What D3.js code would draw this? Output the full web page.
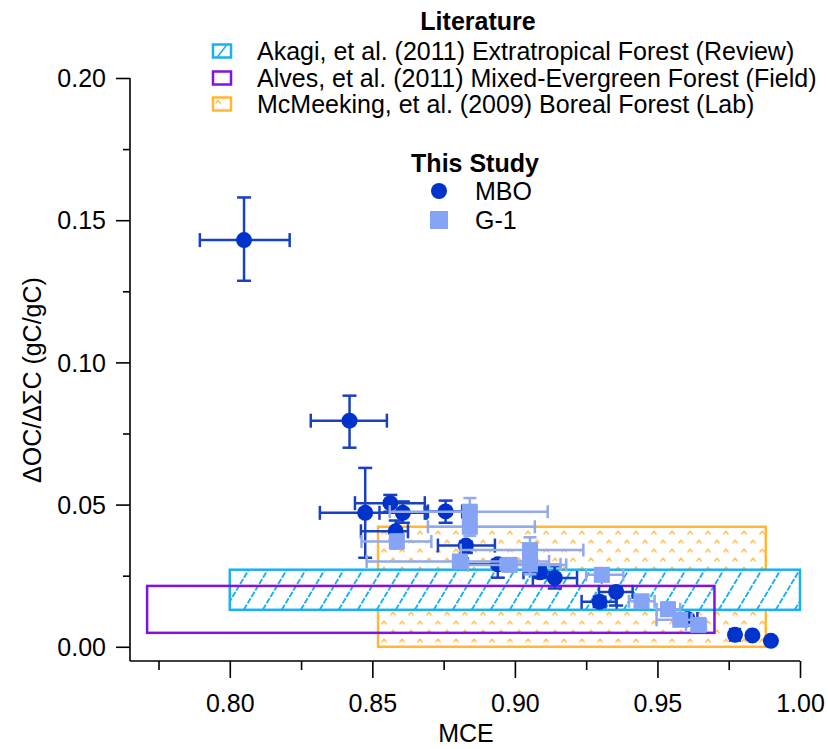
<!DOCTYPE html>
<html>
<head>
<meta charset="utf-8">
<script src="https://cdn.jsdelivr.net/npm/d3@7"></script>
<style>
  html, body { margin: 0; padding: 0; background: #ffffff; }
  svg { display: block; font-family: "Liberation Sans", Arial, sans-serif; }
</style>
</head>
<body>
<svg id="chart" width="828" height="749"></svg>
<script>
// ---- axis ticks ----
const xTicks = [0.80, 0.85, 0.90, 0.95, 1.00];
const xMinorTicks = [0.775, 0.825, 0.875, 0.925, 0.975];
const yTicks = [0.00, 0.05, 0.10, 0.15, 0.20];
const yMinorTicks = [0.025, 0.075, 0.125, 0.175];

// ---- literature ranges (MCE range x OC/C range) ----
const litNames = [
  "Akagi, et al. (2011) Extratropical Forest (Review)",
  "Alves, et al. (2011) Mixed-Evergreen Forest (Field)",
  "McMeeking, et al. (2009) Boreal Forest (Lab)"
];
const litMceLo = [0.800, 0.771, 0.852];
const litMceHi = [1.000, 0.970, 0.988];
const litRatioLo = [0.0130, 0.0049, 0.0000];
const litRatioHi = [0.0271, 0.0214, 0.0422];

// ---- this study: MBO ----
const mboMce     = [0.805, 0.842, 0.8475, 0.8563, 0.8607, 0.8757, 0.8582, 0.8828, 0.8940, 0.9088, 0.9140, 0.9297, 0.9355, 0.9605, 0.9772, 0.9833, 0.9898];
const mboRatio   = [0.143, 0.0795, 0.0471, 0.0505, 0.0471, 0.0476, 0.0406, 0.0356, 0.0290, 0.0262, 0.0242, 0.0158, 0.0193, 0.0098, 0.0042, 0.0040, 0.0021];
const mboMceLo   = [0.7895, 0.8284, 0.8316, 0.8439, 0.8525, 0.8695, 0.8460, 0.8730, 0.8835, 0.9030, 0.9063, 0.9234, 0.9295, 0.9570, 0.9755, 0.9823, 0.9893];
const mboMceHi   = [0.8210, 0.8551, 0.8684, 0.8684, 0.8690, 0.8815, 0.8625, 0.8930, 0.9045, 0.9140, 0.9218, 0.9357, 0.9413, 0.9640, 0.9789, 0.9843, 0.9903];
const mboRatioLo = [0.1287, 0.0700, 0.0313, 0.0475, 0.0436, 0.0436, 0.0375, 0.0330, 0.0243, 0.0245, 0.0205, 0.0140, 0.0145, 0.0085, 0.0035, 0.0036, 0.0018];
const mboRatioHi = [0.1580, 0.0883, 0.0629, 0.0534, 0.0511, 0.0514, 0.0444, 0.0370, 0.0306, 0.0280, 0.0283, 0.0176, 0.0212, 0.0110, 0.0049, 0.0044, 0.0024];

// ---- this study: G-1 ----
const g1Mce     = [0.8842, 0.8842, 0.8586, 0.8807, 0.8982, 0.9053, 0.9053, 0.9305, 0.9444, 0.9537, 0.9580, 0.9643];
const g1Ratio   = [0.0475, 0.0422, 0.0370, 0.0300, 0.0288, 0.0340, 0.0290, 0.0253, 0.0160, 0.0132, 0.0095, 0.0077];
const g1MceLo   = [0.8561, 0.8695, 0.8462, 0.8480, 0.8835, 0.8810, 0.8950, 0.9250, 0.9400, 0.9497, 0.9497, 0.9600];
const g1MceHi   = [0.9115, 0.9070, 0.8707, 0.9120, 0.9180, 0.9240, 0.9160, 0.9380, 0.9490, 0.9580, 0.9620, 0.9670];
const g1RatioLo = [0.0435, 0.0390, 0.0345, 0.0285, 0.0270, 0.0310, 0.0255, 0.0235, 0.0140, 0.0110, 0.0075, 0.0060];
const g1RatioHi = [0.0523, 0.0455, 0.0395, 0.0315, 0.0310, 0.0385, 0.0315, 0.0270, 0.0180, 0.0155, 0.0115, 0.0095];

// ---- styles ----
const litColors = ["#1ab1ef", "#7f14e0", "#ffb735"];
const mboColor = "#0033cc";
const mboBarColor = "#1841c2";
const g1Color = "#86a4f6";
const g1BarColor = "#92a9ec";
const fontSize = 25;

const svg = d3.select("#chart");
const x = d3.scaleLinear().domain([0.765, 1.00]).range([130, 800]);
const y = d3.scaleLinear().domain([-0.005, 0.20]).range([661, 78]);

// ---- patterns ----
const defs = svg.append("defs");
const caret = "M-2.5,1.5 L0,-1.5 L2.5,1.5";
const pat = defs.append("pattern")
  .attr("id", "borealFill")
  .attr("patternUnits", "userSpaceOnUse")
  .attr("width", 18).attr("height", 18)
  .attr("x", x(litMceLo[2])).attr("y", y(litRatioHi[2]));
pat.append("rect").attr("width", 18).attr("height", 18).attr("fill", "#fff");
[[6, 6], [15, 15]].forEach(([cx, cy]) => {
  pat.append("path").attr("d", caret)
    .attr("transform", `translate(${cx},${cy})`)
    .attr("fill", "none").attr("stroke", litColors[2]).attr("stroke-width", 1.2);
});

// ---- literature rectangles ----
const plot = svg.append("g");

function rectBox(i) {
  return {
    x0: x(litMceLo[i]), x1: x(litMceHi[i]),
    y0: y(litRatioHi[i]), y1: y(litRatioLo[i])
  };
}

// McMeeking (pattern filled)
{
  const b = rectBox(2);
  plot.append("rect")
    .attr("x", b.x0).attr("y", b.y0)
    .attr("width", b.x1 - b.x0).attr("height", b.y1 - b.y0)
    .attr("fill", "url(#borealFill)")
    .attr("stroke", litColors[2]).attr("stroke-width", 2.5);
}

// Akagi (white fill with diagonal hatching)
{
  const b = rectBox(0);
  const h = b.y1 - b.y0;
  const lean = 0.6 * h;
  defs.append("clipPath").attr("id", "akagiClip")
    .append("rect").attr("x", b.x0).attr("y", b.y0)
    .attr("width", b.x1 - b.x0).attr("height", h);
  plot.append("rect")
    .attr("x", b.x0).attr("y", b.y0)
    .attr("width", b.x1 - b.x0).attr("height", h)
    .attr("fill", "#fff");
  const starts = d3.range(b.x0 - lean, b.x1 + 1, 19);
  plot.append("g").attr("clip-path", "url(#akagiClip)")
    .selectAll("line").data(starts).join("line")
    .attr("x1", d => d).attr("y1", b.y1)
    .attr("x2", d => d + lean).attr("y2", b.y0)
    .attr("stroke", litColors[0]).attr("stroke-width", 1.9)
    .attr("stroke-dasharray", "6,1.5");
  plot.append("rect")
    .attr("x", b.x0).attr("y", b.y0)
    .attr("width", b.x1 - b.x0).attr("height", h)
    .attr("fill", "none")
    .attr("stroke", litColors[0]).attr("stroke-width", 2.5);
}

// Alves (outline only)
{
  const b = rectBox(1);
  plot.append("rect")
    .attr("x", b.x0).attr("y", b.y0)
    .attr("width", b.x1 - b.x0).attr("height", b.y1 - b.y0)
    .attr("fill", "none")
    .attr("stroke", litColors[1]).attr("stroke-width", 2.5);
}

// ---- error bars ----
function errorBars(g, mce, ratio, lo, hi, rlo, rhi, color, width, cap) {
  const idx = d3.range(mce.length);
  const eg = g.append("g").attr("stroke", color).attr("stroke-width", width).attr("fill", "none");
  idx.forEach(i => {
    const cx = x(mce[i]), cy = y(ratio[i]);
    const xl = x(lo[i]), xr = x(hi[i]);
    const yt = y(rhi[i]), yb = y(rlo[i]);
    eg.append("line").attr("x1", xl).attr("x2", xr).attr("y1", cy).attr("y2", cy);
    eg.append("line").attr("x1", xl).attr("x2", xl).attr("y1", cy - cap / 2).attr("y2", cy + cap / 2);
    eg.append("line").attr("x1", xr).attr("x2", xr).attr("y1", cy - cap / 2).attr("y2", cy + cap / 2);
    eg.append("line").attr("x1", cx).attr("x2", cx).attr("y1", yt).attr("y2", yb);
    eg.append("line").attr("x1", cx - cap / 2).attr("x2", cx + cap / 2).attr("y1", yt).attr("y2", yt);
    eg.append("line").attr("x1", cx - cap / 2).attr("x2", cx + cap / 2).attr("y1", yb).attr("y2", yb);
  });
}

const pts = svg.append("g");

// MBO
errorBars(pts, mboMce, mboRatio, mboMceLo, mboMceHi, mboRatioLo, mboRatioHi, mboBarColor, 2.5, 14);
pts.append("g").selectAll("circle").data(d3.range(mboMce.length)).join("circle")
  .attr("cx", i => x(mboMce[i])).attr("cy", i => y(mboRatio[i]))
  .attr("r", 8).attr("fill", mboColor);

// G-1
errorBars(pts, g1Mce, g1Ratio, g1MceLo, g1MceHi, g1RatioLo, g1RatioHi, g1BarColor, 2.5, 13);
const sq = 16;
pts.append("g").selectAll("rect").data(d3.range(g1Mce.length)).join("rect")
  .attr("x", i => x(g1Mce[i]) - sq / 2).attr("y", i => y(g1Ratio[i]) - sq / 2)
  .attr("width", sq).attr("height", sq).attr("fill", g1Color);

// ---- axes ----
const axes = svg.append("g").attr("stroke", "#000").attr("stroke-width", 1.6);
const yAxis = d3.axisLeft(y).tickValues(yTicks).tickSize(14).tickFormat(d3.format(".2f")).tickSizeOuter(0);
const yAxisMinor = d3.axisLeft(y).tickValues(yMinorTicks).tickSize(7).tickFormat("").tickSizeOuter(0);
const xAxis = d3.axisBottom(x).tickValues(xTicks).tickSize(17).tickFormat(d3.format(".2f")).tickSizeOuter(0);
const xAxisMinor = d3.axisBottom(x).tickValues(xMinorTicks).tickSize(9).tickFormat("").tickSizeOuter(0);

function styleAxis(g) {
  g.selectAll(".domain").remove();
  g.selectAll("line").attr("stroke", "#000").attr("stroke-width", 1.6);
  g.selectAll("text").attr("fill", "#000").attr("font-size", fontSize)
    .attr("font-family", "'Liberation Sans', Arial, sans-serif");
}

const gy = svg.append("g").attr("transform", `translate(${x(0.765)},0)`).call(yAxis).call(styleAxis);
gy.selectAll("text").attr("x", -24).attr("dy", "0.35em");
svg.append("g").attr("transform", `translate(${x(0.765)},0)`).call(yAxisMinor).call(styleAxis);
const gx = svg.append("g").attr("transform", `translate(0,${y(-0.005)})`).call(xAxis).call(styleAxis);
gx.selectAll("text").attr("y", 42).attr("dy", "0.35em");
svg.append("g").attr("transform", `translate(0,${y(-0.005)})`).call(xAxisMinor).call(styleAxis);

// axis lines
axes.append("line").attr("x1", x(0.765)).attr("x2", x(0.765)).attr("y1", y(0.20)).attr("y2", y(-0.005));
axes.append("line").attr("x1", x(0.765)).attr("x2", x(1.00)).attr("y1", y(-0.005)).attr("y2", y(-0.005));

// axis titles
svg.append("text").attr("x", 466).attr("y", 733).attr("dy", "0.35em")
  .attr("text-anchor", "middle").attr("font-size", fontSize).text("MCE");
svg.append("text").attr("transform", "translate(32,380) rotate(-90)").attr("dy", "0.35em")
  .attr("text-anchor", "middle").attr("font-size", fontSize).text("ΔOC/ΔΣC (gC/gC)");

// ---- legend: literature ----
const leg = svg.append("g");
leg.append("text").attr("x", 478).attr("y", 21).attr("dy", "0.35em")
  .attr("text-anchor", "middle").attr("font-size", fontSize).attr("font-weight", "bold").text("Literature");
const rowY = [51, 78, 104];
const swW = 18, swH = 13, swX = 213;
// swatch: Akagi
defs.append("clipPath").attr("id", "swClip0").append("rect")
  .attr("x", swX).attr("y", rowY[0] - swH / 2).attr("width", swW).attr("height", swH);
leg.append("line").attr("clip-path", "url(#swClip0)")
  .attr("x1", swX + 4).attr("y1", rowY[0] + swH / 2).attr("x2", swX + 14).attr("y2", rowY[0] - swH / 2)
  .attr("stroke", litColors[0]).attr("stroke-width", 1.6);
leg.append("rect").attr("x", swX).attr("y", rowY[0] - swH / 2).attr("width", swW).attr("height", swH)
  .attr("fill", "none").attr("stroke", litColors[0]).attr("stroke-width", 2.5);
// swatch: Alves
leg.append("rect").attr("x", swX).attr("y", rowY[1] - swH / 2).attr("width", swW).attr("height", swH)
  .attr("fill", "none").attr("stroke", litColors[1]).attr("stroke-width", 2.5);
// swatch: McMeeking
leg.append("rect").attr("x", swX).attr("y", rowY[2] - swH / 2).attr("width", swW).attr("height", swH)
  .attr("fill", "#fff").attr("stroke", litColors[2]).attr("stroke-width", 2.5);
leg.append("path").attr("d", caret).attr("transform", `translate(${swX + 5},${rowY[2] - 2})`)
  .attr("fill", "none").attr("stroke", litColors[2]).attr("stroke-width", 1.2);
leg.selectAll("text.lit").data(litNames).join("text").attr("class", "lit")
  .attr("x", 257).attr("y", (d, i) => rowY[i]).attr("dy", "0.35em")
  .attr("font-size", fontSize).text(d => d);

// ---- legend: this study ----
leg.append("text").attr("x", 475).attr("y", 163).attr("dy", "0.35em")
  .attr("text-anchor", "middle").attr("font-size", fontSize).attr("font-weight", "bold").text("This Study");
leg.append("circle").attr("cx", 439).attr("cy", 191).attr("r", 8).attr("fill", mboColor);
leg.append("rect").attr("x", 430).attr("y", 211).attr("width", 18).attr("height", 18).attr("fill", g1Color);
leg.append("text").attr("x", 475).attr("y", 191).attr("dy", "0.35em").attr("font-size", fontSize).text("MBO");
leg.append("text").attr("x", 475).attr("y", 220).attr("dy", "0.35em").attr("font-size", fontSize).text("G-1");
</script>
</body>
</html>
